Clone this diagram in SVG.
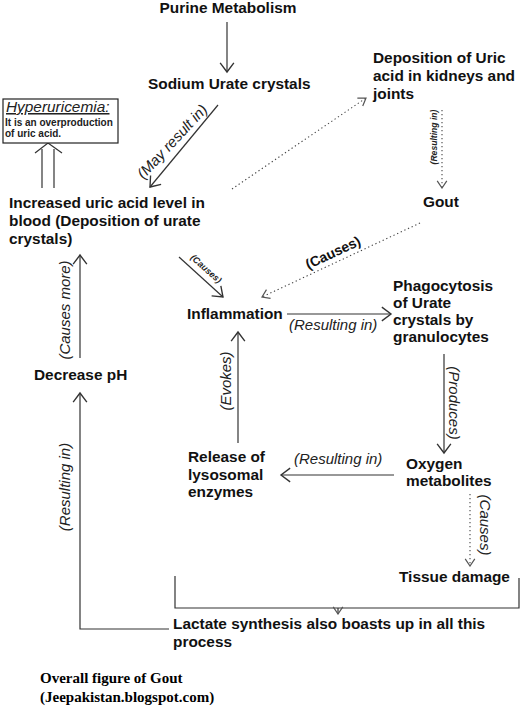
<svg xmlns="http://www.w3.org/2000/svg" width="526" height="720" viewBox="0 0 526 720">
<style>
.n{font-family:"Liberation Sans",Arial,sans-serif;font-weight:bold;font-size:15.4px;fill:#111}
.l{font-family:"Liberation Sans",Arial,sans-serif;font-style:italic;font-size:15px;fill:#222}
.s{font-family:"Liberation Sans",Arial,sans-serif;font-style:italic;font-weight:bold;font-size:8.6px;fill:#222}
.c{font-family:"Liberation Serif","Times New Roman",serif;font-weight:bold;font-size:15px;fill:#000}
.ln{fill:none;stroke:#333;stroke-width:1.2}
.dt{fill:none;stroke:#444;stroke-width:1.1;stroke-dasharray:1.3 2.7}
</style>
<defs>
<marker id="a" markerUnits="userSpaceOnUse" markerWidth="14" markerHeight="16" viewBox="0 0 10 14" refX="9" refY="7" orient="auto">
<path d="M1,1 L9,7 L1,13" fill="none" stroke="#333" stroke-width="1.2"/>
</marker>
<marker id="d" markerUnits="userSpaceOnUse" markerWidth="10" markerHeight="12" viewBox="0 0 8 10" refX="7" refY="5" orient="auto">
<path d="M1,1 L7,5 L1,9" fill="none" stroke="#555" stroke-width="1"/>
</marker>
</defs>
<rect width="526" height="720" fill="#fff"/>

<g id="connectors">
<line class="ln" x1="227" y1="22" x2="227" y2="72" marker-end="url(#a)"/>
<line class="ln" x1="218" y1="105" x2="150" y2="187" marker-end="url(#a)"/>
<line class="ln" x1="42" y1="188" x2="42" y2="149"/>
<line class="ln" x1="54" y1="188" x2="54" y2="149"/>
<polyline class="ln" points="35,153 48,143 62,153"/>
<line class="dt" x1="232" y1="189" x2="366" y2="98" marker-end="url(#d)"/>
<line class="dt" x1="442" y1="110" x2="442" y2="188" marker-end="url(#d)"/>
<line class="dt" x1="420" y1="223" x2="262" y2="297" marker-end="url(#d)"/>
<line class="ln" x1="179" y1="257" x2="223" y2="297" marker-end="url(#a)"/>
<line class="ln" x1="287" y1="314" x2="391" y2="314" marker-end="url(#a)"/>
<line class="ln" x1="238" y1="443" x2="238" y2="332" marker-end="url(#a)"/>
<line class="ln" x1="444" y1="354" x2="444" y2="453" marker-end="url(#a)"/>
<line class="ln" x1="394" y1="475" x2="281" y2="475" marker-end="url(#a)"/>
<line class="dt" x1="470" y1="494" x2="470" y2="566" marker-end="url(#d)"/>
<path class="ln" d="M175,576 V608 H519 V578"/>
<line class="ln" x1="338" y1="608" x2="338" y2="614" marker-end="url(#d)"/>
<path class="ln" d="M169,629 H80 V393" marker-end="url(#a)"/>
<line class="ln" x1="80" y1="358" x2="80" y2="255" marker-end="url(#a)"/>

<text class="l" transform="translate(176,145) rotate(-47)" text-anchor="middle">(May result in)</text>
<text class="s" transform="translate(437,137) rotate(-90)" text-anchor="middle">(Resulting in)</text>
<text class="n" style="font-size:14px" transform="translate(335,257) rotate(-25)" text-anchor="middle">(Causes)</text>
<text class="s" style="font-size:9px" transform="translate(204,271) rotate(42)" text-anchor="middle">(Causes)</text>
<text class="l" x="289" y="330">(Resulting in)</text>
<text class="l" transform="translate(231,381) rotate(-90)" text-anchor="middle">(Evokes)</text>
<text class="l" transform="translate(449,403) rotate(90)" text-anchor="middle">(Produces)</text>
<text class="l" x="294" y="464">(Resulting in)</text>
<text class="l" transform="translate(480,525) rotate(90)" text-anchor="middle">(Causes)</text>
<text class="l" transform="translate(70,487) rotate(-90)" text-anchor="middle">(Resulting in)</text>
<text class="l" transform="translate(70,310) rotate(-90)" text-anchor="middle">(Causes more)</text>
</g>

<g id="purine"><text class="n" x="228" y="13" text-anchor="middle">Purine Metabolism</text></g>
<g id="sodium"><text class="n" x="148" y="89">Sodium Urate crystals</text></g>
<g id="hyperuricemia">
<rect x="3" y="99" width="115" height="44" fill="#fff" stroke="#222" stroke-width="1.2"/>
<text x="6" y="112" style="font-family:'Liberation Sans',Arial,sans-serif;font-style:italic;font-size:15.4px;text-decoration:underline;fill:#222">Hyperuricemia:</text>
<text x="5" y="126" style="font-family:'Liberation Sans',Arial,sans-serif;font-weight:bold;font-size:10px;fill:#222">It is an overproduction</text>
<text x="5" y="137" style="font-family:'Liberation Sans',Arial,sans-serif;font-weight:bold;font-size:10px;fill:#222">of uric acid.</text>
</g>
<g id="increased"><text class="n" x="9" y="208">Increased uric acid level in<tspan x="9" y="226">blood (Deposition of urate</tspan><tspan x="9" y="244">crystals)</tspan></text></g>
<g id="deposition"><text class="n" x="373" y="63">Deposition of Uric<tspan x="373" y="81">acid in kidneys and</tspan><tspan x="373" y="99">joints</tspan></text></g>
<g id="gout"><text class="n" x="423" y="207">Gout</text></g>
<g id="inflammation"><text class="n" x="187" y="319">Inflammation</text></g>
<g id="phagocytosis"><text class="n" x="393" y="291">Phagocytosis<tspan x="393" y="308">of Urate</tspan><tspan x="393" y="325">crystals by</tspan><tspan x="393" y="342">granulocytes</tspan></text></g>
<g id="decrease"><text class="n" x="34" y="380">Decrease pH</text></g>
<g id="release"><text class="n" x="188" y="462">Release of<tspan x="188" y="480">lysosomal</tspan><tspan x="188" y="497">enzymes</tspan></text></g>
<g id="oxygen"><text class="n" x="406" y="469">Oxygen<tspan x="406" y="486">metabolites</tspan></text></g>
<g id="tissue"><text class="n" x="399" y="582">Tissue damage</text></g>
<g id="lactate"><text class="n" x="173" y="629">Lactate synthesis also boasts up in all this<tspan x="173" y="647">process</tspan></text></g>
<g id="caption"><text class="c" x="40" y="683">Overall figure of Gout<tspan x="40" y="702">(Jeepakistan.blogspot.com)</tspan></text></g>
</svg>
